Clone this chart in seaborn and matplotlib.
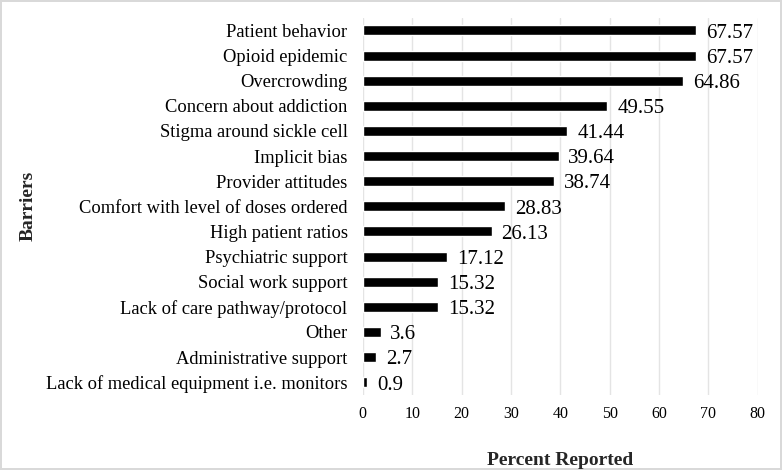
import matplotlib
matplotlib.use("Agg")
import matplotlib.pyplot as plt
import seaborn as sns
import pandas as pd

# Barriers, top to bottom as in the chart
barriers = [
    "Patient behavior",
    "Opioid epidemic",
    "Overcrowding",
    "Concern about addiction",
    "Stigma around sickle cell",
    "Implicit bias",
    "Provider attitudes",
    "Comfort with level of doses ordered",
    "High patient ratios",
    "Psychiatric support",
    "Social work support",
    "Lack of care pathway/protocol",
    "Other",
    "Administrative support",
    "Lack of medical equipment i.e. monitors",
]
percent = [67.57, 67.57, 64.86, 49.55, 41.44, 39.64, 38.74, 28.83, 26.13,
           17.12, 15.32, 15.32, 3.6, 2.7, 0.9]
x_ticks = [0, 10, 20, 30, 40, 50, 60, 70, 80]

df = pd.DataFrame({"Barriers": barriers, "Percent": percent})

sns.set_theme(style="white")
plt.rcParams["font.family"] = ["Liberation Serif", "DejaVu Serif"]

fig = plt.figure(figsize=(7.82, 4.70), dpi=100)
ax = fig.add_axes([0.464, 0.160, 0.505, 0.802])

sns.barplot(data=df, x="Percent", y="Barriers", orient="h", color="black",
            width=0.4, saturation=1, ax=ax)

# value labels, nudged a little below the bar centre like the original
for cont in ax.containers:
    labels = [f"{v:g}" for v in percent]
    anns = ax.bar_label(cont, labels=labels, padding=7, fontsize=15, color="black")
    for a in anns:
        a.xyann = (7, -2)

ax.set_xlim(0, 80)
ax.set_ylim(14.5, -0.5)
ax.set_xticks(x_ticks)
ax.xaxis.grid(True, color="#e4e4e4", linewidth=1)
ax.set_axisbelow(True)
for s in ax.spines.values():
    s.set_visible(False)

ax.tick_params(axis="y", length=0, pad=11, labelsize=13.3, labelcolor="black")
ax.tick_params(axis="x", length=0, pad=8, labelsize=11.5, labelcolor="black")

ax.set_xlabel("Percent Reported", fontsize=14, fontweight="bold", labelpad=22)
ax.set_ylabel("Barriers", fontsize=14, fontweight="bold")
ax.yaxis.set_label_coords(-0.825, 0.5)

fig.patch.set_edgecolor("#d9d9d9")
fig.patch.set_linewidth(1.5)

fig.savefig("out.png", dpi=100)
